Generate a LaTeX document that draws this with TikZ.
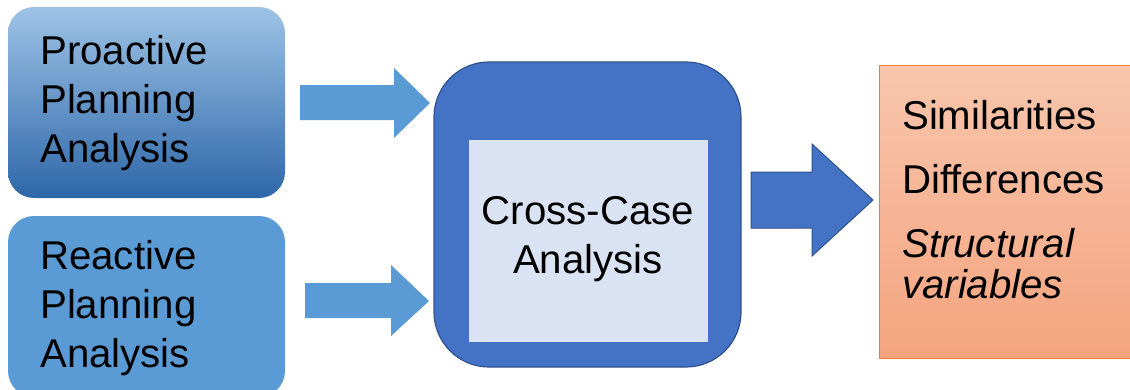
\documentclass[tikz,border=0pt]{standalone}
\usepackage{fontspec}
\setmainfont{Liberation Sans}
\begin{document}
\begin{tikzpicture}[x=1pt,y=-1pt,
  txt/.style={anchor=base west,inner sep=0pt,font=\fontsize{40.2}{47}\selectfont},
  ctxt/.style={anchor=base,inner sep=0pt,font=\fontsize{40.2}{47}\selectfont},
  blockarrow/.style={fill=#1,draw=none},
]
\definecolor{ltop}{HTML}{9DC3E6}
\definecolor{lbot}{HTML}{2E67A8}
\definecolor{lblue}{HTML}{5B9BD5}
\definecolor{mblue}{HTML}{4472C4}
\definecolor{dblue}{HTML}{2F528F}
\definecolor{pale}{HTML}{DAE3F3}
\definecolor{otop}{HTML}{F8C6AC}
\definecolor{obot}{HTML}{F4A47F}
\definecolor{oedge}{HTML}{ED7D31}
\useasboundingbox (0,0) rectangle (1130,389);
% left boxes
\path[rounded corners=26pt, top color=ltop, bottom color=lbot] (8,7) rectangle (285,198);
\path[rounded corners=26pt, fill=lblue] (8,216) rectangle (285,397);
\node[txt] (p1) at (40,64) {Proactive};
\node[txt] (p2) at (40,113) {Planning};
\node[txt] (p3) at (40,162) {Analysis};
\node[txt] (r1) at (40,269) {Reactive};
\node[txt] (r2) at (40,318) {Planning};
\node[txt] (r3) at (40,367) {Analysis};
% input arrows
\path[blockarrow=lblue] (300,85) -- (394,85) -- (394,68) -- (430,103) -- (394,138) -- (394,120) -- (300,120) -- cycle;
\path[blockarrow=lblue] (305,283) -- (391,283) -- (391,265) -- (429,301) -- (391,336) -- (391,318) -- (305,318) -- cycle;
% center box
\draw[rounded corners=55pt, fill=mblue, draw=dblue, line width=1.2pt] (434,62) rectangle (741,367);
\fill[pale] (469,140) rectangle (708,342);
\node[ctxt] (c1) at (588,224) {Cross-Case};
\node[ctxt] (c2) at (588,273) {Analysis};
% output arrow
\draw[fill=mblue, draw=dblue, line width=1pt, line join=miter] (751,172) -- (812,172) -- (812,144) -- (873,200) -- (812,256) -- (812,228) -- (751,228) -- cycle;
% right box
\draw[top color=otop, bottom color=obot, draw=oedge, line width=1pt] (879,65) rectangle (1140,358);
\node[txt] (s1) at (902,129) {Similarities};
\node[txt] (s2) at (902,193) {Differences};
\node[txt,font=\fontsize{40.2}{47}\selectfont\itshape] (s3) at (902,257) {Structural};
\node[txt,font=\fontsize{40.2}{47}\selectfont\itshape] (s4) at (902,298) {variables};
\end{tikzpicture}
\end{document}
